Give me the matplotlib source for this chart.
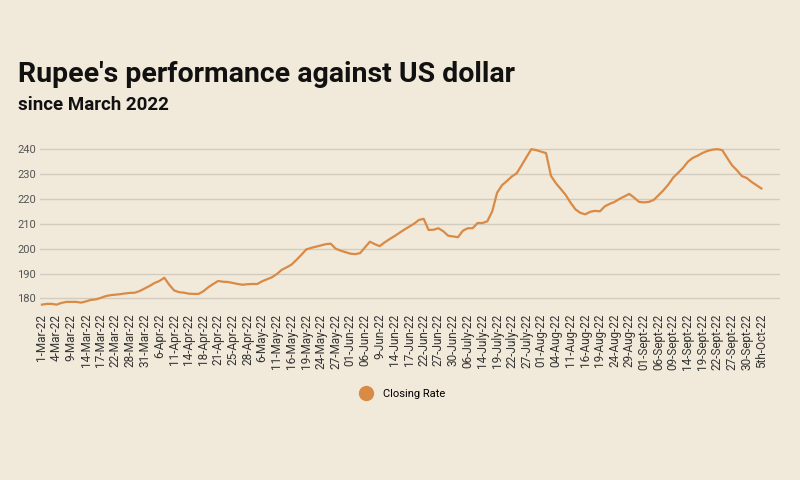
import matplotlib.pyplot as plt
import numpy as np

# tick labels (every third trading day)
tick_labels = [
    "1-Mar-22", "4-Mar-22", "9-Mar-22", "14-Mar-22", "17-Mar-22", "22-Mar-22",
    "28-Mar-22", "31-Mar-22", "6-Apr-22", "11-Apr-22", "14-Apr-22", "18-Apr-22",
    "21-Apr-22", "25-Apr-22", "28-Apr-22", "6-May-22", "11-May-22", "16-May-22",
    "19-May-22", "24-May-22", "27-May-22", "01-Jun-22", "06-Jun-22", "9-Jun-22",
    "14-Jun-22", "17-Jun-22", "22-Jun-22", "27-Jun-22", "30-Jun-22", "06-July-22",
    "14-July-22", "19-July-22", "22-July-22", "27-July-22", "01-Aug-22", "04-Aug-22",
    "11-Aug-22", "16-Aug-22", "19-Aug-22", "24-Aug-22", "29-Aug-22", "01-Sept-22",
    "06-Sept-22", "09-Sept-22", "14-Sept-22", "19-Sept-22", "22-Sept-22",
    "27-Sept-22", "30-Sept-22", "5th-Oct-22",
]

closing_rate = [
    177.5, 177.8, 177.8, 177.5, 178.2, 178.6, 178.6, 178.6, 178.3,
    178.8, 179.4, 179.6, 180.2, 180.9, 181.3, 181.5, 181.7, 182.0,
    182.2, 182.3, 183.0, 184.0, 185.0, 186.2, 187.0, 188.3, 185.5,
    183.2, 182.5, 182.3, 181.9, 181.8, 181.8, 182.9, 184.5, 185.8,
    187.0, 186.7, 186.6, 186.2, 185.8, 185.5, 185.7, 185.8, 185.8,
    186.9, 187.7, 188.5, 189.8, 191.5, 192.5, 193.6, 195.5, 197.5,
    199.7, 200.3, 200.8, 201.3, 201.8, 202.0, 200.0, 199.2, 198.6,
    198.0, 197.8, 198.2, 200.5, 202.8, 201.8, 201.0, 202.5, 203.8,
    205.0, 206.3, 207.6, 208.8, 210.0, 211.5, 212.0, 207.5, 207.6,
    208.2, 207.0, 205.2, 204.9, 204.6, 207.2, 208.2, 208.2, 210.3,
    210.3, 211.0, 215.0, 222.5, 225.5, 227.2, 229.0, 230.3, 233.5,
    236.8, 240.0, 239.6, 239.0, 238.4, 229.3, 226.3, 224.0, 221.6,
    218.5, 215.8, 214.4, 213.8, 214.8, 215.2, 215.0, 217.0, 218.0,
    218.8, 220.0, 221.0, 222.0, 220.5, 218.8, 218.6, 218.8, 219.6,
    221.5, 223.5, 225.8, 228.6, 230.5, 232.5, 235.0, 236.5, 237.4,
    238.5, 239.3, 239.8, 240.0, 239.6, 236.5, 233.5, 231.5, 229.2,
    228.4, 226.8, 225.5, 224.2,
]

y_ticks = [180, 190, 200, 210, 220, 230, 240]

bg = "#f1e9da"
line_color = "#d98a45"

plt.rcParams['font.family'] = ['Roboto', 'DejaVu Sans']

fig = plt.figure(figsize=(8, 4.8), dpi=100, facecolor=bg)
ax = fig.add_axes([0.05, 0.355, 0.925, 0.355], facecolor=bg)

x = np.arange(len(closing_rate))
ax.plot(x, closing_rate, color=line_color, linewidth=1.6, label="Closing Rate")

ax.set_xticks(np.arange(0, len(closing_rate), 3))
ax.set_xticklabels(tick_labels, rotation=90, fontsize=8.5, color="#333333")
ax.set_yticks(y_ticks)
ax.set_yticklabels([str(v) for v in y_ticks], fontsize=8, color="#555555")
ax.set_xlim(-0.4, 150.8)
ax.set_ylim(175.5, 244)
ax.grid(axis='y', color="#d3cbbd", linewidth=1)
ax.set_axisbelow(True)
ax.tick_params(length=0, pad=3)
for s in ax.spines.values():
    s.set_visible(False)

fig.text(0.022, 0.83, "Rupee's performance against US dollar", fontsize=20.5,
         fontweight='bold', color="#111111")
fig.text(0.022, 0.77, "since March 2022", fontsize=13.5, fontweight='bold', color="#111111")

fig.legend(handles=[plt.Line2D([], [], marker='o', linestyle='', markersize=10,
                               color=line_color)],
           labels=["Closing Rate"], loc='center', bbox_to_anchor=(0.5, 0.18),
           frameon=False, fontsize=8, handletextpad=0.6)

fig.savefig("out.png", dpi=100, facecolor=bg)
